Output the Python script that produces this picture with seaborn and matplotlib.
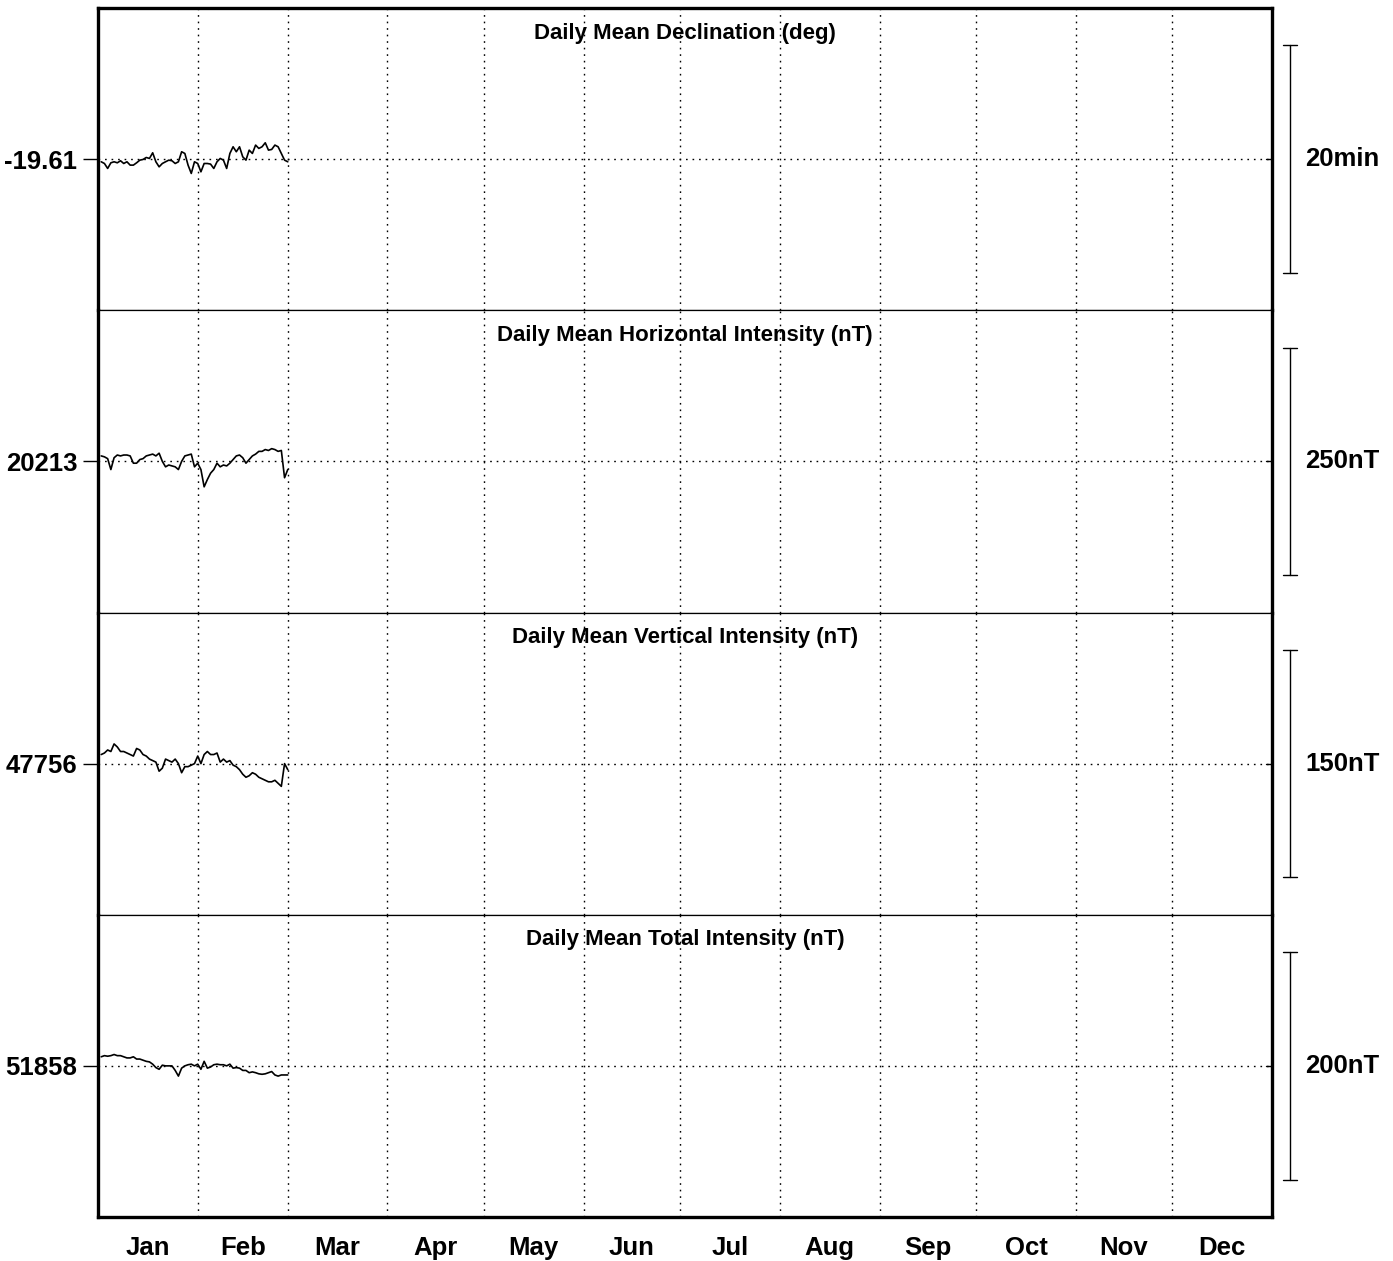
import numpy as np
import pandas as pd
import matplotlib
matplotlib.use("Agg")
import matplotlib.pyplot as plt
import matplotlib.transforms as mtransforms
import seaborn as sns

# day of year (Jan 1 .. Feb 28)
days = np.arange(1, 60)

months = ["Jan", "Feb", "Mar", "Apr", "May", "Jun",
          "Jul", "Aug", "Sep", "Oct", "Nov", "Dec"]
month_days = [31, 28, 31, 30, 31, 30, 31, 31, 30, 31, 30, 31]

titles = ["Daily Mean Declination (deg)",
          "Daily Mean Horizontal Intensity (nT)",
          "Daily Mean Vertical Intensity (nT)",
          "Daily Mean Total Intensity (nT)"]
baselines = [-19.61, 20213, 47756, 51858]
base_labels = ["-19.61", "20213", "47756", "51858"]
scales = [20 / 60, 250, 150, 200]          # scale bar length in data units
scale_labels = ["20min", "250nT", "150nT", "200nT"]

declination = [
    -19.6139, -19.6164, -19.6237, -19.6154, -19.6139, -19.6154, -19.6124, -19.6164,
    -19.6139, -19.6188, -19.6188, -19.6154, -19.6115, -19.6105, -19.6076, -19.6090,
    -19.6007, -19.6139, -19.6213, -19.6164, -19.6139, -19.6115, -19.6124, -19.6164,
    -19.6139, -19.5992, -19.6017, -19.6188, -19.6310, -19.6139, -19.6164, -19.6286,
    -19.6164, -19.6164, -19.6173, -19.6237, -19.6139, -19.6090, -19.6115, -19.6237,
    -19.6017, -19.5919, -19.5992, -19.5919, -19.6066, -19.6115, -19.5968, -19.6017,
    -19.5894, -19.5943, -19.5919, -19.5860, -19.5968, -19.5958, -19.5894, -19.5919,
    -19.6017, -19.6115, -19.6139]

horizontal = [
    20219, 20218, 20216, 20204, 20217, 20220, 20219, 20220, 20220, 20219,
    20211, 20211, 20215, 20216, 20219, 20220, 20221, 20219, 20222, 20213,
    20207, 20209, 20208, 20207, 20204, 20213, 20219, 20220, 20221, 20207,
    20211, 20204, 20185, 20193, 20200, 20204, 20211, 20207, 20209, 20208,
    20211, 20215, 20219, 20220, 20217, 20211, 20215, 20219, 20221, 20224,
    20224, 20226, 20225, 20227, 20226, 20224, 20225, 20195, 20204]

vertical = [
    47762, 47763, 47765, 47764, 47769, 47767, 47764, 47764, 47763, 47762,
    47761, 47766, 47765, 47762, 47761, 47759, 47758, 47757, 47751, 47753,
    47759, 47758, 47757, 47759, 47756, 47750, 47754, 47754, 47755, 47756,
    47761, 47756, 47762, 47764, 47762, 47762, 47763, 47757, 47759, 47757,
    47758, 47755, 47754, 47752, 47749, 47747, 47748, 47750, 47749, 47747,
    47746, 47745, 47744, 47744, 47745, 47743, 47741, 47756, 47752]

total = [
    51866, 51867, 51866.5, 51867, 51868, 51867, 51867, 51866, 51865, 51865,
    51866, 51864, 51864, 51863, 51862, 51861.5, 51859.5, 51856.5, 51855, 51858.6,
    51858, 51858, 51858, 51854, 51849, 51856, 51858, 51859, 51859.5, 51858,
    51859.5, 51855, 51862, 51856, 51857, 51859, 51859.5, 51859, 51859, 51858,
    51859.5, 51856, 51856.5, 51856, 51854, 51854, 51852, 51852.7, 51852, 51851,
    51850.6, 51851, 51852, 51853, 51850, 51849, 51850, 51850, 51850]

series = [declination, horizontal, vertical, total]

sns.set_style("white")
plt.rcParams["font.family"] = ["Liberation Sans", "DejaVu Sans"]
plt.rcParams["font.weight"] = "bold"
for key in ["text.color", "xtick.color", "ytick.color", "axes.labelcolor"]:
    plt.rcParams[key] = "black"

THICK, THIN = 2.4, 0.9
dots = (0, (1.2, 3.5))
LABEL_FS = 18.5

bounds = np.cumsum([0] + month_days)
mids = (bounds[:-1] + bounds[1:]) / 2

fig, axes = plt.subplots(4, 1, figsize=(13.93, 12.61), dpi=100, sharex=True)
fig.subplots_adjust(left=98 / 1393, right=1272 / 1393,
                    top=1 - 8 / 1261, bottom=1 - 1217 / 1261, hspace=0)

for i, ax in enumerate(axes):
    base, scale = baselines[i], scales[i]
    df = pd.DataFrame({"day": days, "value": series[i]})
    sns.lineplot(data=df, x="day", y="value", ax=ax, color="black", lw=1.2)

    half = scale * 0.665
    ax.set_ylim(base - half, base + half)
    ax.set_xlim(0, 365)
    ax.set_xlabel("")
    ax.set_ylabel("")

    # grid
    ax.axhline(base, color="black", lw=1, ls=dots, zorder=0)
    for b in bounds[1:-1]:
        ax.axvline(b, color="black", lw=1, ls=dots, zorder=0)

    ax.set_yticks([base])
    ax.set_yticklabels([base_labels[i]], fontsize=LABEL_FS, fontweight="bold")
    ax.tick_params(axis="y", direction="out", length=11, width=1, pad=4,
                   left=True, right=False)

    trans = mtransforms.blended_transform_factory(ax.transAxes, ax.transData)
    ax.plot([0.995, 1.0], [base, base], transform=trans, color="black",
            lw=1, clip_on=False)

    # scale bar on the right
    x0 = (1290 - 1272) / 1174 + 1
    cap = 7.5 / 1174
    lo, hi = base - scale / 2, base + scale / 2
    ax.plot([x0, x0], [lo, hi], transform=trans, color="black", lw=1, clip_on=False)
    ax.plot([x0 - cap, x0 + cap], [lo, lo], transform=trans, color="black", lw=1, clip_on=False)
    ax.plot([x0 - cap, x0 + cap], [hi, hi], transform=trans, color="black", lw=1, clip_on=False)
    ax.text((1305 - 1272) / 1174 + 1, base, scale_labels[i], transform=trans,
            ha="left", va="center", fontsize=LABEL_FS, fontweight="bold")

    ax.text(0.5, 0.917, titles[i], transform=ax.transAxes, ha="center",
            va="center", fontsize=16, fontweight="bold")

    for side in ["left", "right"]:
        ax.spines[side].set_linewidth(THICK)
    ax.spines["top"].set_linewidth(THICK if i == 0 else THIN)
    ax.spines["bottom"].set_linewidth(THICK if i == 3 else THIN)
    for sp in ax.spines.values():
        sp.set_color("black")

ax = axes[-1]
ax.set_xticks(mids)
ax.set_xticklabels(months, fontsize=LABEL_FS, fontweight="bold")
ax.tick_params(axis="x", length=0, pad=14)

fig.savefig("out.png", dpi=100)
